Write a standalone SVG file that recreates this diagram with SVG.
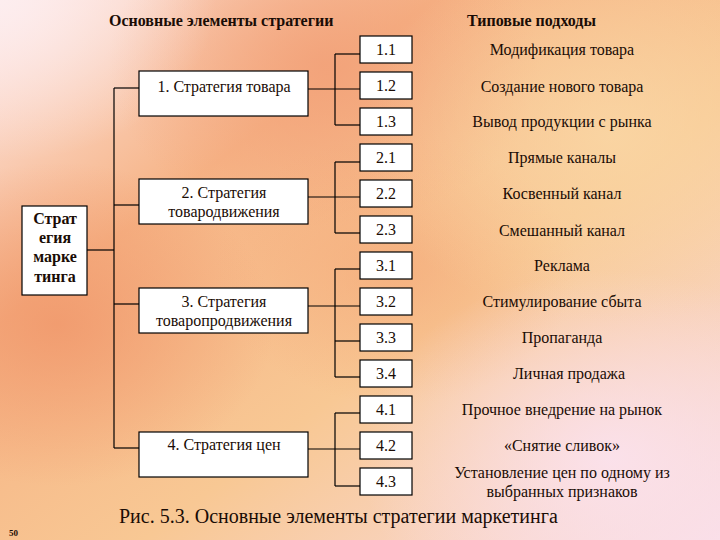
<svg xmlns="http://www.w3.org/2000/svg" width="720" height="540" viewBox="0 0 720 540">
<defs>
<linearGradient id="bg" x1="0" y1="0" x2="1" y2="1">
<stop offset="0" stop-color="#fde6e4"/>
<stop offset="0.3" stop-color="#f6b385"/>
<stop offset="0.6" stop-color="#f8c894"/>
<stop offset="1" stop-color="#f9dde6"/>
</linearGradient>
<radialGradient id="r1" cx="0.45" cy="0.12" r="0.3">
<stop offset="0" stop-color="#f2a078" stop-opacity="0.85"/>
<stop offset="1" stop-color="#f2a078" stop-opacity="0"/>
</radialGradient>
<radialGradient id="r2" cx="0.08" cy="0.6" r="0.3">
<stop offset="0" stop-color="#f0966a" stop-opacity="0.8"/>
<stop offset="1" stop-color="#f0966a" stop-opacity="0"/>
</radialGradient>
<radialGradient id="r3" cx="0.85" cy="0.85" r="0.35">
<stop offset="0" stop-color="#fbe2ee" stop-opacity="0.9"/>
<stop offset="1" stop-color="#fbe2ee" stop-opacity="0"/>
</radialGradient>
<radialGradient id="r4" cx="0.85" cy="0.25" r="0.35">
<stop offset="0" stop-color="#fad8a6" stop-opacity="0.8"/>
<stop offset="1" stop-color="#fad8a6" stop-opacity="0"/>
</radialGradient>
<radialGradient id="r5" cx="0.0" cy="0.0" r="0.3">
<stop offset="0" stop-color="#fdeef0" stop-opacity="0.9"/>
<stop offset="1" stop-color="#fdeef0" stop-opacity="0"/>
</radialGradient>
<radialGradient id="r6" cx="0.55" cy="0.5" r="0.25">
<stop offset="0" stop-color="#f4a676" stop-opacity="0.6"/>
<stop offset="1" stop-color="#f4a676" stop-opacity="0"/>
</radialGradient>
</defs>
<style>
.box{fill:#ffffff;stroke:#000;stroke-width:1.2}
text{font-family:"Liberation Serif","Tinos","Times New Roman","DejaVu Serif",serif;fill:#1a0c05}
.t{font-size:16px;text-anchor:middle}
.b{font-weight:bold}
.h{font-size:16px;font-weight:bold}
.c line{stroke:#000;stroke-width:1.2}
</style>
<rect width="720" height="540" fill="url(#bg)"/>
<rect width="720" height="540" fill="url(#r1)"/>
<rect width="720" height="540" fill="url(#r2)"/>
<rect width="720" height="540" fill="url(#r6)"/>
<rect width="720" height="540" fill="url(#r3)"/>
<rect width="720" height="540" fill="url(#r4)"/>
<rect width="720" height="540" fill="url(#r5)"/>

<text class="h" x="109" y="26">Основные элементы стратегии</text>
<text class="h" x="467" y="26">Типовые подходы</text>

<g id="connectors" class="c">
<line x1="87" y1="250" x2="114" y2="250"/>
<line x1="114" y1="88" x2="114" y2="448"/>
<line x1="114" y1="88" x2="139" y2="88"/>
<line x1="114" y1="205" x2="139" y2="205"/>
<line x1="114" y1="304" x2="139" y2="304"/>
<line x1="114" y1="448" x2="139" y2="448"/>
<line x1="308" y1="89" x2="360" y2="89"/>
<line x1="335" y1="54" x2="335" y2="125"/>
<line x1="335" y1="54" x2="360" y2="54"/>
<line x1="335" y1="125" x2="360" y2="125"/>
<line x1="308" y1="197" x2="360" y2="197"/>
<line x1="335" y1="162" x2="335" y2="233"/>
<line x1="335" y1="162" x2="360" y2="162"/>
<line x1="335" y1="233" x2="360" y2="233"/>
<line x1="308" y1="306" x2="360" y2="306"/>
<line x1="335" y1="269" x2="335" y2="377"/>
<line x1="335" y1="269" x2="360" y2="269"/>
<line x1="335" y1="341" x2="360" y2="341"/>
<line x1="335" y1="377" x2="360" y2="377"/>
<line x1="308" y1="449" x2="360" y2="449"/>
<line x1="335" y1="413" x2="335" y2="486"/>
<line x1="335" y1="413" x2="360" y2="413"/>
<line x1="335" y1="486" x2="360" y2="486"/>
</g>

<g id="main">
<rect class="box" x="22" y="206" width="65" height="89"/>
<text class="t b" x="55" y="224">Страт</text>
<text class="t b" x="55" y="243">егия</text>
<text class="t b" x="55" y="262">марке</text>
<text class="t b" x="55" y="282">тинга</text>
</g>

<g id="s1"><rect class="box" x="139" y="71" width="169" height="45"/><text class="t" x="224" y="92">1. Стратегия товара</text></g>
<g id="s2"><rect class="box" x="139" y="179" width="169" height="45"/><text class="t" x="224" y="198">2. Стратегия</text><text class="t" x="224" y="217">товародвижения</text></g>
<g id="s3"><rect class="box" x="139" y="288" width="169" height="45"/><text class="t" x="224" y="307">3. Стратегия</text><text class="t" x="224" y="326">товаропродвижения</text></g>
<g id="s4"><rect class="box" x="139" y="432" width="169" height="45"/><text class="t" x="224" y="450">4. Стратегия цен</text></g>

<g id="n11"><rect class="box" x="360" y="36" width="52" height="27"/><text class="t" x="386" y="55">1.1</text><text class="t" x="562" y="55">Модификация товара</text></g>
<g id="n12"><rect class="box" x="360" y="72" width="52" height="27"/><text class="t" x="386" y="91">1.2</text><text class="t" x="562" y="92">Создание нового товара</text></g>
<g id="n13"><rect class="box" x="360" y="108" width="52" height="27"/><text class="t" x="386" y="127">1.3</text><text class="t" x="562" y="127">Вывод продукции с рынка</text></g>
<g id="n21"><rect class="box" x="360" y="144" width="52" height="27"/><text class="t" x="386" y="163">2.1</text><text class="t" x="562" y="163">Прямые каналы</text></g>
<g id="n22"><rect class="box" x="360" y="180" width="52" height="27"/><text class="t" x="386" y="199">2.2</text><text class="t" x="562" y="199">Косвенный канал</text></g>
<g id="n23"><rect class="box" x="360" y="216" width="52" height="27"/><text class="t" x="386" y="235">2.3</text><text class="t" x="562" y="236">Смешанный канал</text></g>
<g id="n31"><rect class="box" x="360" y="252" width="52" height="27"/><text class="t" x="386" y="271">3.1</text><text class="t" x="562" y="271">Реклама</text></g>
<g id="n32"><rect class="box" x="360" y="288" width="52" height="27"/><text class="t" x="386" y="307">3.2</text><text class="t" x="562" y="307">Стимулирование сбыта</text></g>
<g id="n33"><rect class="box" x="360" y="324" width="52" height="27"/><text class="t" x="386" y="343">3.3</text><text class="t" x="562" y="343">Пропаганда</text></g>
<g id="n34"><rect class="box" x="360" y="360" width="52" height="27"/><text class="t" x="386" y="379">3.4</text><text class="t" x="569" y="379">Личная продажа</text></g>
<g id="n41"><rect class="box" x="360" y="396" width="52" height="27"/><text class="t" x="386" y="415">4.1</text><text class="t" x="562" y="415">Прочное внедрение на рынок</text></g>
<g id="n42"><rect class="box" x="360" y="432" width="52" height="27"/><text class="t" x="386" y="451">4.2</text><text class="t" x="562" y="451">«Снятие сливок»</text></g>
<g id="n43"><rect class="box" x="360" y="468" width="52" height="27"/><text class="t" x="386" y="487">4.3</text><text class="t" x="562" y="478">Установление цен по одному из</text><text class="t" x="562" y="497">выбранных признаков</text></g>

<text x="119" y="523" font-size="20">Рис. 5.3. Основные элементы стратегии маркетинга</text>
<text x="9" y="536" font-size="9" font-weight="bold">50</text>
</svg>
